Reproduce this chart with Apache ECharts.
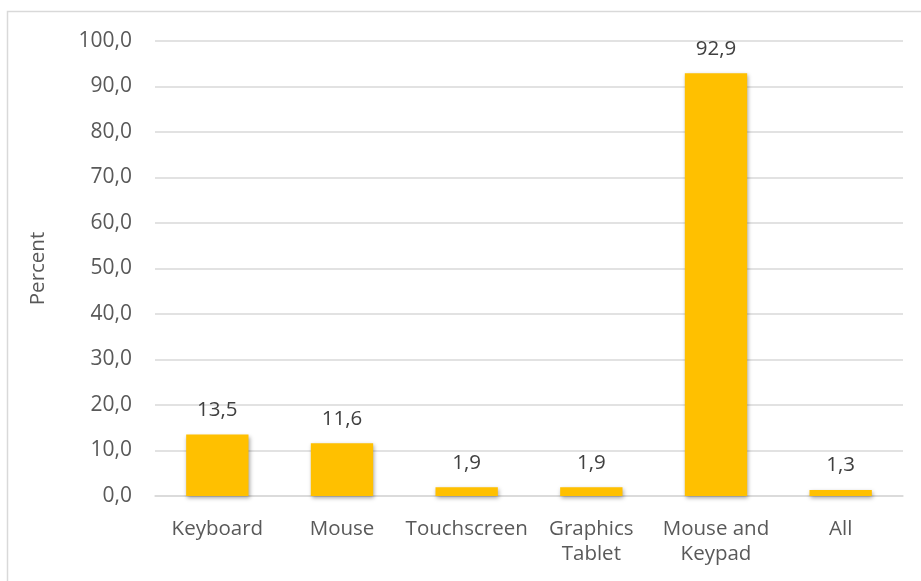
<!DOCTYPE html>
<html><head><meta charset="utf-8">
<script src="https://cdn.jsdelivr.net/npm/echarts@6/dist/echarts.min.js"></script>
<style>html,body{margin:0;padding:0;background:#fff}#c{width:921px;height:581px}</style>
</head><body><div id="c"></div>
<script>
const categories = ["Keyboard", "Mouse", "Touchscreen", "Graphics\nTablet", "Mouse and\nKeypad", "All"];
const values = [13.5, 11.6, 1.9, 1.9, 92.9, 1.3];
const yTicks = { min: 0, max: 100, interval: 10 };
const yName = "Percent";

const chart = echarts.init(document.getElementById('c'), null, {renderer: 'canvas'});
const FONT = '"Open Sans", sans-serif';
chart.setOption({
  animation: false,
  backgroundColor: '#fff',
  graphic: [{
    type: 'rect', shape: {x: 7.5, y: 11.5, width: 1000, height: 1000},
    style: {fill: 'none', stroke: '#d9d9d9', lineWidth: 1.5}, silent: true
  }],
  grid: {left: 155, right: 18, top: 41, bottom: 85, containLabel: false},
  xAxis: {
    type: 'category', data: categories,
    axisLine: {lineStyle: {color: '#d9d9d9', width: 1.5}},
    axisTick: {show: false},
    axisLabel: {color: '#595959', fontFamily: FONT, fontSize: 20.5, margin: 20.5, lineHeight: 25, interval: 0}
  },
  yAxis: {
    type: 'value', min: yTicks.min, max: yTicks.max, interval: yTicks.interval,
    name: yName, nameLocation: 'middle', nameGap: 106, nameRotate: 90,
    nameTextStyle: {color: '#595959', fontFamily: FONT, fontSize: 20.5},
    axisLine: {show: false}, axisTick: {show: false},
    axisLabel: {color: '#595959', fontFamily: FONT, fontSize: 21, margin: 23,
      formatter: v => v.toFixed(1).replace('.', ',')},
    splitLine: {lineStyle: {color: '#d9d9d9', width: 1.5}}
  },
  series: [{
    type: 'bar', data: values, barWidth: '50%',
    itemStyle: {color: '#FFC000', shadowColor: 'rgba(0,0,0,0.35)', shadowBlur: 4, shadowOffsetX: 1, shadowOffsetY: 2},
    label: {show: true, position: 'top', distance: 14, color: '#404040', fontFamily: FONT, fontSize: 20.5,
      formatter: p => p.value.toFixed(1).replace('.', ',')}
  }]
});
</script></body></html>
